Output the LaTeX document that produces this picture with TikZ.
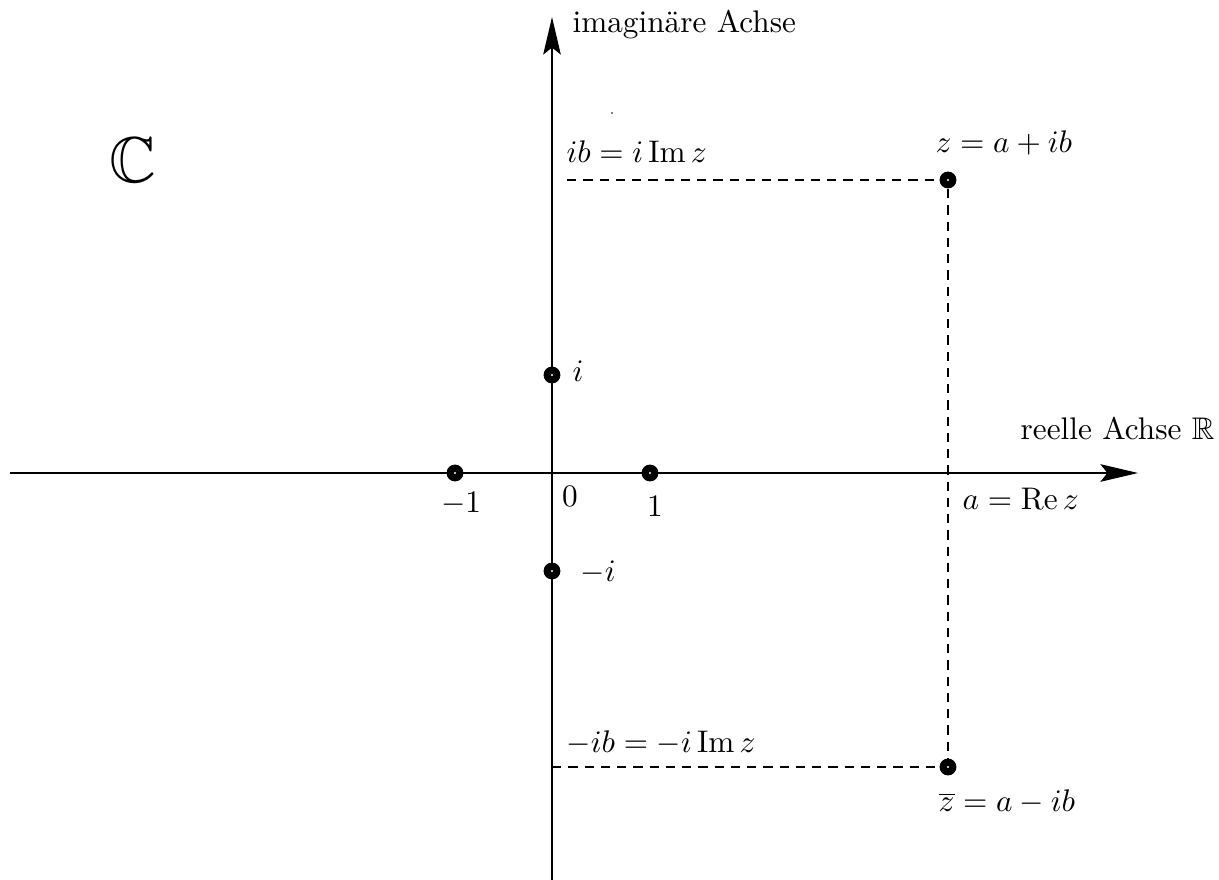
\documentclass[tikz,border=0pt]{standalone}
\usepackage{amssymb}
\usetikzlibrary{arrows.meta}
\begin{document}
\begin{tikzpicture}[x=0.32pt,y=-0.32pt,
  axis/.style={line width=0.65pt,-{Stealth[length=12pt,width=5.6pt,inset=2.2pt]}},
  guide/.style={line width=0.5pt,dash pattern=on 3pt off 2.2pt},
  dot/.style={circle,fill=black,minimum size=5.4pt,inner sep=0pt,
    path picture={\fill[white] (path picture bounding box.center) circle (0.35pt);}},
  lbl/.style={inner sep=0pt}]
\useasboundingbox (0,0) rectangle (1219,880);
% axes
\coordinate (xl) at (10,473);
\coordinate (xr) at (1138,473);
\coordinate (yb) at (552,882);
\coordinate (yt) at (552,17);
\draw[axis] (xl) -- (xr);
\draw[axis] (yb) -- (yt);
% points
\node[dot] (m1) at (455,473) {};
\node[dot] (p1) at (650,473) {};
\node[dot] (pi) at (552,375) {};
\node[dot] (mi) at (552,571) {};
\node[dot] (z) at (948,180) {};
\node[dot] (zb) at (948,767) {};
% guides
\coordinate (ibl) at (567,180);
\coordinate (mibl) at (552,767);
\draw[guide] (ibl) -- (z);
\draw[guide] (z) -- (zb);
\draw[guide] (mibl) -- (zb);
% stray tiny dot
\fill (612,113) circle (0.3pt) coordinate (stray);
% labels
\node[lbl,anchor=base west] (ylab) at (572,33) {imaginäre Achse};
\node[lbl,anchor=base east] (xlab) at (1215,440) {reelle Achse $\mathbb{R}$};
\node[lbl] (CC) at (133,160) {\huge$\mathbb{C}$};
\node[lbl,anchor=base west] (ibt) at (566,163) {$ib=i\,\mathrm{Im}\,z$};
\node[lbl,anchor=base west] (zt) at (935,153) {$z=a+ib$};
\node[lbl,anchor=base west] (ret) at (962,510) {$a=\mathrm{Re}\,z$};
\node[lbl,anchor=base west] (mibt) at (566,753) {$-ib=-i\,\mathrm{Im}\,z$};
\node[lbl,anchor=base west] (zbt) at (938,812) {$\overline{z}=a-ib$};
\node[lbl,anchor=base west] (it) at (572,382) {$i$};
\node[lbl,anchor=base west] (mit) at (580,582) {$-i$};
\node[lbl,anchor=base] (m1t) at (461,513) {$-1$};
\node[lbl,anchor=base] (zero) at (570,507) {$0$};
\node[lbl,anchor=base] (p1t) at (655,517) {$1$};
\end{tikzpicture}
\end{document}
